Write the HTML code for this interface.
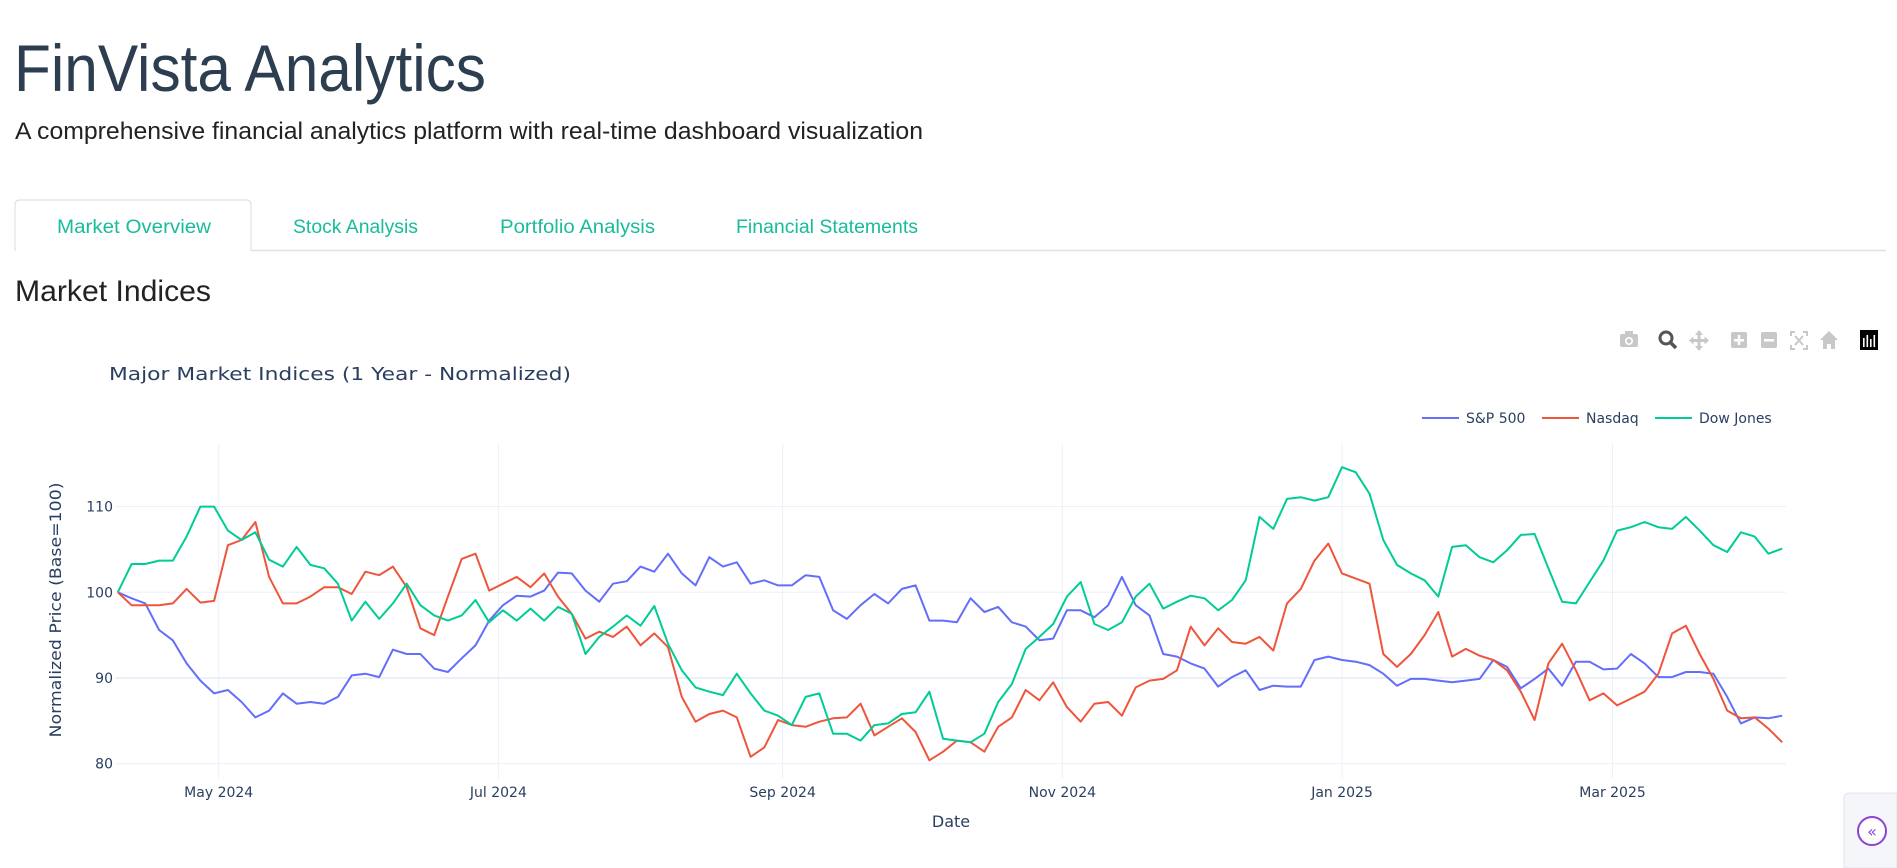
<!DOCTYPE html>
<html><head><meta charset="utf-8"><style>
html,body{margin:0;padding:0;background:#fff;}
svg{display:block;}
</style></head><body>
<svg id="root" width="1897" height="868" viewBox="0 0 1897 868" xmlns="http://www.w3.org/2000/svg">
<g>
<text x="14" y="91" font-family="Liberation Sans, sans-serif" font-size="66" fill="#2c3e50" textLength="472" lengthAdjust="spacingAndGlyphs">FinVista Analytics</text>
<text x="15" y="139" font-family="Liberation Sans, sans-serif" font-size="24" fill="#222" textLength="908" lengthAdjust="spacingAndGlyphs">A comprehensive financial analytics platform with real-time dashboard visualization</text>
</g>
<g>
<line x1="251" y1="250.5" x2="1886" y2="250.5" stroke="#dee2e6" stroke-width="1.5"/>
<path d="M15 251 V205 Q15 200 20 200 H246 Q251 200 251 205 V251" fill="#fff" stroke="#dee2e6" stroke-width="1.2"/>
<text x="57" y="233" font-family="Liberation Sans, sans-serif" font-size="19" fill="#18bc9c" textLength="154" lengthAdjust="spacingAndGlyphs">Market Overview</text>
<text x="293" y="233" font-family="Liberation Sans, sans-serif" font-size="19" fill="#18bc9c" textLength="125" lengthAdjust="spacingAndGlyphs">Stock Analysis</text>
<text x="500" y="233" font-family="Liberation Sans, sans-serif" font-size="19" fill="#18bc9c" textLength="155" lengthAdjust="spacingAndGlyphs">Portfolio Analysis</text>
<text x="736" y="233" font-family="Liberation Sans, sans-serif" font-size="19" fill="#18bc9c" textLength="182" lengthAdjust="spacingAndGlyphs">Financial Statements</text>
</g>
<text x="15" y="301" font-family="Liberation Sans, sans-serif" font-size="30" fill="#222" textLength="196" lengthAdjust="spacingAndGlyphs">Market Indices</text>

<g fill="#c8c8c8">
<g><rect x="1620" y="334" width="18" height="13" rx="2"/><rect x="1625" y="331" width="8" height="4"/><circle cx="1629" cy="341" r="4" fill="#fff"/><circle cx="1629" cy="341" r="2.3"/></g>
<g><circle cx="1666" cy="338" r="6" fill="none" stroke="#555" stroke-width="3"/><line x1="1670" y1="342" x2="1676" y2="348" stroke="#555" stroke-width="3.5"/></g>
<g><path d="M1699 330 L1703 335 H1700.5 V339 H1704.5 V336.5 L1709 340.5 L1704.5 344.5 V342 H1700.5 V346 H1703 L1699 351 L1695 346 H1697.5 V342 H1693.5 V344.5 L1689 340.5 L1693.5 336.5 V339 H1697.5 V335 H1695 Z"/></g>
<g><rect x="1731" y="332" width="16" height="16" rx="2"/><rect x="1734" y="339" width="10" height="2.5" fill="#fff"/><rect x="1737.8" y="335" width="2.5" height="10" fill="#fff"/></g>
<g><rect x="1761" y="332" width="16" height="16" rx="2"/><rect x="1764" y="339" width="10" height="2.5" fill="#fff"/></g>
<g stroke="#c8c8c8" stroke-width="2" fill="none"><path d="M1791 336 V332 H1795 M1803 332 H1807 V336 M1807 345 V349 H1803 M1795 349 H1791 V345"/><path d="M1795 336 L1803 345 M1803 336 L1795 345"/></g>
<g><path d="M1829 331 L1838 340 H1835 V349 H1831 V344 H1827 V349 H1823 V340 H1820 Z"/></g>
<g><rect x="1860" y="330" width="18" height="20" fill="#000"/><rect x="1863" y="338" width="1.6" height="9" fill="#fff"/><rect x="1866.5" y="335" width="1.6" height="12" fill="#fff"/><rect x="1870" y="339" width="1.6" height="8" fill="#fff"/><rect x="1873.5" y="335" width="1.6" height="12" fill="#fff"/></g>
</g>

<text x="109" y="380" font-family="DejaVu Sans, sans-serif" font-size="18" fill="#2a3f5f" textLength="462" lengthAdjust="spacingAndGlyphs">Major Market Indices (1 Year - Normalized)</text>

<g id="grid"></g>
<g id="axes"></g>
<g id="series"></g>
<g id="legend"></g>

<text x="951" y="827" text-anchor="middle" font-family="DejaVu Sans, sans-serif" font-size="16" fill="#2a3f5f">Date</text>
<text transform="translate(61,610) rotate(-90)" text-anchor="middle" font-family="DejaVu Sans, sans-serif" font-size="16" fill="#2a3f5f" textLength="255" lengthAdjust="spacingAndGlyphs">Normalized Price (Base=100)</text>

<g>
<path d="M1897 793 H1850 Q1844 793 1844 799 V868 H1897 Z" fill="#f5f6fa" stroke="#e2e4ea"/>
<circle cx="1872" cy="831" r="14" fill="#fff" stroke="#8a43d6" stroke-width="2"/>
<text x="1872" y="837" text-anchor="middle" font-family="DejaVu Sans, sans-serif" font-size="16" fill="#8a43d6">«</text>
</g>
</svg>
<script>
const startDate = "2024-04-09";
const stepDays = 3;
const sp500 = [100,99.3,98.7,95.6,94.4,91.7,89.7,88.2,88.6,87.2,85.4,86.2,88.2,87.0,87.2,87.0,87.8,90.3,90.5,90.1,93.3,92.8,92.8,91.1,90.7,92.3,93.8,96.7,98.5,99.6,99.5,100.2,
102.3,102.2,100.2,98.9,101,101.3,103,102.4,104.5,102.2,100.8,104.1,103,103.5,101,101.4,100.8,100.8,102,101.8,97.9,96.9,98.5,99.8,98.7,100.4,100.8,96.7,96.7,96.5,
99.3,97.7,98.3,96.5,96,94.4,94.6,97.9,97.9,97.1,98.5,101.8,98.5,97.3,92.8,92.5,91.7,91.1,89,90.1,90.9,88.6,89.1,89,89,92.1,92.5,92.1,91.9,91.5,90.5,
89.1,89.9,89.9,89.7,89.5,89.7,89.9,92.1,91.3,88.8,89.9,91.1,89.1,91.9,91.9,91,91.1,92.8,91.7,90.1,90.1,90.7,90.7,90.5,87.8,84.7,85.4,85.3,85.6];
const nasdaq = [100,98.5,98.5,98.5,98.7,100.4,98.8,99,105.5,106.1,108.2,101.8,98.7,98.7,99.5,100.6,100.6,99.8,102.4,102,103,100.6,95.8,95,99.5,103.9,104.5,100.2,101,101.8,100.6,102.2,
99.5,97.5,94.6,95.4,94.8,96,93.8,95.2,93.6,87.8,84.9,85.8,86.2,85.4,80.8,81.9,85.1,84.5,84.3,84.9,85.3,85.4,87,83.3,84.3,85.3,83.7,80.4,81.4,82.7,
82.5,81.4,84.3,85.4,88.6,87.4,89.5,86.6,84.9,87,87.2,85.6,88.9,89.7,89.9,90.9,96,93.8,95.8,94.2,94,94.8,93.2,98.7,100.4,103.7,105.7,102.2,101.6,101,92.8,
91.3,92.8,95,97.7,92.5,93.4,92.6,92.1,90.9,88.4,85.1,91.7,94,90.9,87.4,88.2,86.8,87.6,88.4,90.5,95.2,96.1,92.8,89.9,86.2,85.3,85.4,84.1,82.5];
const dowJones = [100,103.3,103.3,103.7,103.7,106.5,110,110,107.2,106.1,107,103.8,103,105.3,103.2,102.8,101,96.7,98.9,96.9,98.7,101,98.5,97.3,96.7,97.3,99.1,96.5,97.9,96.7,98.1,96.7,
98.3,97.5,92.8,94.8,96,97.3,96.1,98.4,94,90.9,88.9,88.4,88,90.5,88.2,86.2,85.6,84.5,87.8,88.2,83.5,83.5,82.7,84.5,84.7,85.8,86,88.4,82.9,82.7,
82.5,83.5,87.2,89.3,93.4,94.8,96.3,99.5,101.2,96.3,95.6,96.5,99.5,101,98.1,98.9,99.6,99.3,97.9,99.1,101.4,108.8,107.4,110.9,111.1,110.7,111.1,114.6,114,111.5,106.1,
103.2,102.2,101.4,99.5,105.3,105.5,104.1,103.5,104.9,106.7,106.8,102.8,98.9,98.7,101.2,103.7,107.2,107.6,108.2,107.6,107.4,108.8,107.2,105.5,104.7,107,106.5,104.5,105.1];
const yTicks = [80,90,100,110];
const xTickDates = ["2024-05-01","2024-07-01","2024-09-01","2024-11-01","2025-01-01","2025-03-01"];
const xTickLabels = ["May 2024","Jul 2024","Sep 2024","Nov 2024","Jan 2025","Mar 2025"];
const seriesNames = ["S&P 500","Nasdaq","Dow Jones"];

const NS = "http://www.w3.org/2000/svg";
const PL = 116, PR = 1786, PT = 444, PB = 778;
const DAY = 86400000;
const refDate = Date.parse("2024-05-01");
const xDomain = [Date.parse("2024-04-09"), Date.parse("2025-04-08")];
function xScale(t){ return 218.7 + (t - refDate) / DAY * 4.585; }
function yScale(v){ return 592.3 - (v - 100) * 8.57; }
function mk(tag, attrs, parent){ const e=document.createElementNS(NS,tag); for(const k in attrs) e.setAttribute(k,attrs[k]); parent.appendChild(e); return e; }

const grid = document.getElementById('grid');
const axes = document.getElementById('axes');
yTicks.forEach(v=>{
  const y=yScale(v);
  const gl=mk('line',{x1:PL,x2:PR,y1:y,y2:y,stroke:'#ebf0f8','stroke-width':v===90?2:1},grid);
  
  
  const t=mk('text',{x:113,y:y+5,'text-anchor':'end','font-family':'DejaVu Sans, sans-serif','font-size':14,fill:'#2a3f5f'},axes);
  t.textContent=String(v);
  
  
});
xTickDates.forEach((d,i)=>{
  const x=xScale(Date.parse(d));
  const gl=mk('line',{x1:x,x2:x,y1:PT,y2:PB,stroke:'#ebf0f8','stroke-width':1},grid);
  
  
  const t=mk('text',{x:x,y:797,'text-anchor':'middle','font-family':'DejaVu Sans, sans-serif','font-size':14,fill:'#2a3f5f'},axes);
  t.textContent=xTickLabels[i];
  
  
});

const colors=['#636efa','#ef553b','#00cc96'];
const seriesData=[sp500,nasdaq,dowJones];
const start=Date.parse(startDate);
const seriesG=document.getElementById('series');
seriesData.forEach((vals,s)=>{
  const pts=vals.map((v,i)=>xScale(start+i*stepDays*DAY).toFixed(1)+','+yScale(v).toFixed(1)).join(' ');
  const pl=mk('polyline',{points:pts,fill:'none',stroke:colors[s],'stroke-width':2,'stroke-linejoin':'round'},seriesG);
  
  
});

const legend=document.getElementById('legend');
const legX=[1422,1542,1655];
seriesNames.forEach((n,s)=>{
  const g=mk('g',{},legend);
  
  
  mk('line',{x1:legX[s],x2:legX[s]+37,y1:418,y2:418,stroke:colors[s],'stroke-width':2},g);
  const t=mk('text',{x:legX[s]+44,y:423,'font-family':'DejaVu Sans, sans-serif','font-size':14,fill:'#2a3f5f'},g);
  t.textContent=n;
});
</script>
</body></html>
